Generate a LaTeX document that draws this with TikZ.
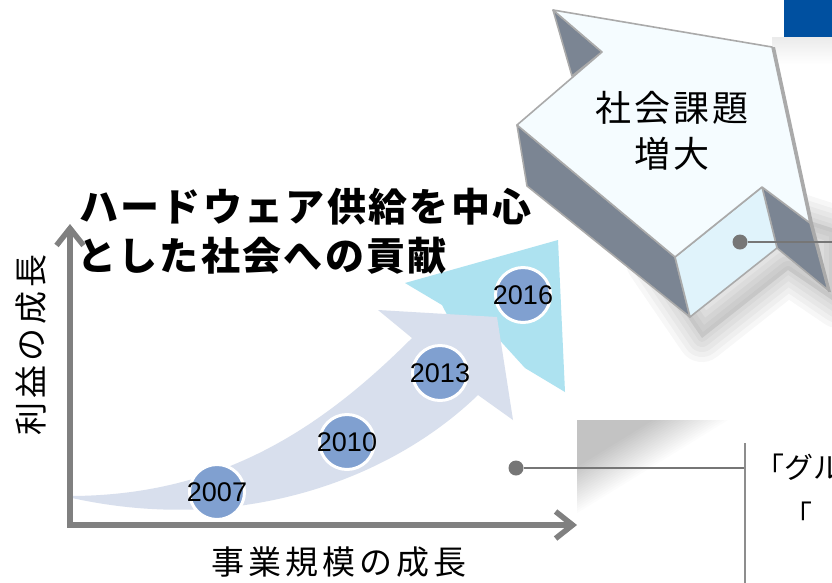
\documentclass[tikz,border=0pt]{standalone}
\usepackage{fontspec}
\usetikzlibrary{arrows.meta}
\newfontfamily\jp{Noto Sans CJK JP}
\newfontfamily\jpaxis[LetterSpace=12]{Noto Sans CJK JP}
\newfontfamily\jpbox[LetterSpace=8]{Noto Sans CJK JP}
\newfontfamily\jptitle[LetterSpace=6]{Noto Sans CJK JP}
\newfontfamily\arialish{Liberation Sans}
\definecolor{topface}{RGB}{245,252,255}
\definecolor{slate}{RGB}{123,133,147}
\definecolor{frontface}{RGB}{224,243,251}
\definecolor{edgegray}{RGB}{170,170,170}
\definecolor{brandblue}{RGB}{0,80,160}
\definecolor{skyarrow}{RGB}{173,226,240}
\definecolor{lavender}{RGB}{216,223,237}
\definecolor{dotblue}{RGB}{128,160,208}
\definecolor{axisgray}{RGB}{128,128,128}
\definecolor{dotgray}{RGB}{118,118,118}
\tikzset{
  face/.style={draw=edgegray, line width=1.6pt, line join=round},
  axisline/.style={draw=axisgray, line width=5.5pt,
    {Straight Barb[length=17pt,width=27pt]}-{Straight Barb[length=17pt,width=27pt]}},
  yeardot/.style={circle, fill=dotblue, draw=white, line width=3pt, minimum size=55pt, inner sep=0pt},
  yeartext/.style={inner sep=0pt, font=\arialish\fontsize{27}{30}\selectfont},
  graydot/.style={circle, fill=dotgray, minimum size=15pt, inner sep=0pt},
  leader/.style={draw=dotgray, line width=1.6pt},
}
\begin{document}
\begin{tikzpicture}[x=1pt,y=-1pt]
\useasboundingbox (0,0) rectangle (832,582);
\clip (0,0) rectangle (832,582);
\fill[white] (0,0) rectangle (832,582);

% faint shadow under the blue bar
\shade[top color=black!8, bottom color=white] (772,37) rectangle (832,64);
\fill[brandblue] (784,0) rectangle (832,37);

% soft shadow of the 3D arrow
\foreach \w in {48,38,28,18,8} {
  \draw[black, opacity=0.03, line width=\w pt, line join=round]
    (650,262) -- (702,338) -- (788,270) -- (838,304) -- (838,230) -- (760,205) -- cycle;
}
\fill[black, opacity=0.08] (650,262) -- (702,338) -- (788,270) -- (838,304) -- (838,230) -- (760,205) -- cycle;

% wedge shadow
\begin{scope}
  \clip (577,420) rectangle (760,530);
  \foreach \s in {0,1.5,...,28.5} {
    \fill[black, opacity=0.013, shift={(-\s,-\s)}] (540,380) -- (793,380) -- (540,536) -- cycle;
  }
\end{scope}

% 3D arrow "社会課題増大"
\fill[edgegray] (775,47) -- (813,223) -- (831,292) -- (828,292) -- (810,223) -- (772,47) -- cycle;
\path[face, fill=slate] (517,125) -- (675,257) -- (690,317) -- (527,186) -- cycle;
\path[face, fill=slate] (762,187) -- (810,223) -- (828,290) -- (777,248) -- cycle;
\path[face, fill=frontface] (675,257) -- (762,187) -- (777,248) -- (690,317) -- cycle;
\path[face, fill=slate] (553,10) -- (602,52) -- (572,76) -- cycle;
\path[face, fill=topface] (553,10) -- (772,47) -- (810,223) -- (762,187) -- (675,257) -- (517,125) -- (602,52) -- cycle;
\node[inner sep=0pt, align=center, font=\jpbox\fontsize{36}{46}\selectfont] (issue) at (672,131) {社会課題\\増大};

% growth arrows
\fill[skyarrow] (405,283) -- (558,240) -- (565,392) -- (525,368) -- (495,335) -- (455,330) -- (442,305) -- cycle;
\fill[lavender] (72,496) .. controls (220,495) and (320,430) .. (412,338) -- (378,310) -- (497,317) -- (513,420) -- (478,395) .. controls (390,480) and (240,535) .. (72,498) -- cycle;

% axes
\coordinate (ytop) at (70,224);
\coordinate (orig) at (70,525);
\coordinate (xend) at (577,525);
\draw[axisline, line join=miter] (ytop) -- (orig) -- (xend);
\node[rotate=90, inner sep=0pt, font=\jpaxis\fontsize{33}{36}\selectfont] (ylab) at (31,345) {利益の成長};
\node[inner sep=0pt, font=\jpaxis\fontsize{33}{36}\selectfont] (xlab) at (339,562) {事業規模の成長};

% year circles
\node[yeardot] (c2007) at (217,492) {};
\node[yeardot] (c2010) at (347,442) {};
\node[yeardot] (c2013) at (440,373) {};
\node[yeardot] (c2016) at (523,295) {};
\node[yeartext] (t2007) at (c2007) {2007};
\node[yeartext] (t2010) at (c2010) {2010};
\node[yeartext] (t2013) at (c2013) {2013};
\node[yeartext] (t2016) at (c2016) {2016};

% title
\node[anchor=west, inner sep=0pt, font=\jptitle\bfseries\fontsize{39}{47}\selectfont] (title1) at (79,207) {ハードウェア供給を中心};
\node[anchor=west, inner sep=0pt, font=\jptitle\bfseries\fontsize{39}{47}\selectfont] (title2) at (77,256) {とした社会への貢献};

% leader lines
\node[graydot] (dotA) at (740,242) {};
\coordinate (edgeA) at (834,242);
\draw[leader] (dotA) -- (edgeA);
\node[graydot] (dotB) at (516,468) {};
\coordinate (bendB) at (745,468);
\coordinate (vtop) at (745,443);
\coordinate (vbot) at (745,584);
\draw[leader] (dotB) -- (bendB);
\draw[leader, draw=axisgray!90] (vtop) -- (vbot);

% partial text at the right edge
\node[anchor=base west, inner sep=0pt, font=\jp\fontsize{29}{34}\selectfont] (quote1) at (755,478) {「グル};
\node[anchor=base west, inner sep=0pt, font=\jp\fontsize{29}{34}\selectfont] (quote2) at (783,526) {「};
\end{tikzpicture}
\end{document}
